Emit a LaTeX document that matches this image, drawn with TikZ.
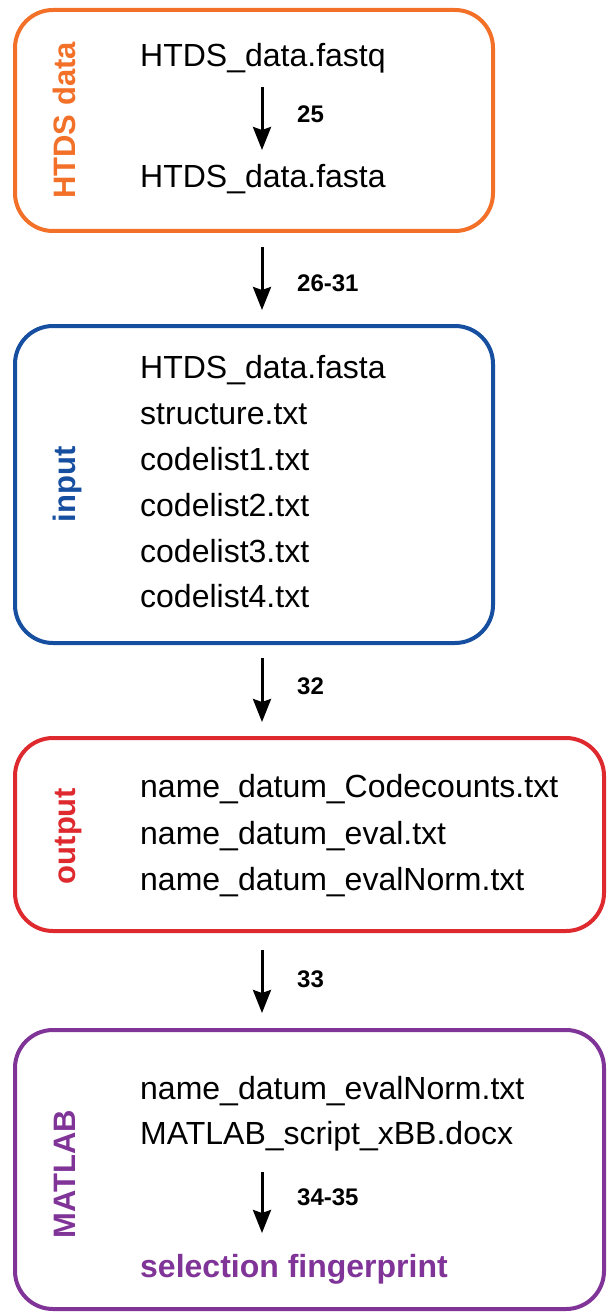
\documentclass[tikz,border=0pt]{standalone}
\usepackage{fontspec}
\setmainfont{Liberation Sans}
\usetikzlibrary{arrows.meta}
\definecolor{cOrange}{RGB}{242,112,40}
\definecolor{cBlue}{RGB}{22,78,160}
\definecolor{cRed}{RGB}{222,42,46}
\definecolor{cPurple}{RGB}{128,52,152}
\tikzset{
  box/.style={draw, line width=4pt, rounded corners=38pt, inner sep=0pt},
  ftext/.style={anchor=base west, inner sep=0pt, font=\fontsize{32}{38}\selectfont},
  lbl/.style={anchor=base west, inner sep=0pt, font=\bfseries\fontsize{24}{28}\selectfont},
  side/.style={rotate=90, anchor=base, inner sep=0pt, font=\bfseries\fontsize{31}{36}\selectfont},
  arr/.style={line width=3pt, -{Stealth[length=23pt,width=18pt,inset=3pt]}}
}
\begin{document}
\begin{tikzpicture}[x=1pt,y=-1pt]
\useasboundingbox (0,0) rectangle (608,1313);
% boxes
\node[box, draw=cOrange, minimum width=478pt, minimum height=221pt] (b1) at (254,120.5) {};
\node[box, draw=cBlue, minimum width=478pt, minimum height=317pt] (b2) at (254,484.5) {};
\node[box, draw=cRed, minimum width=589pt, minimum height=193pt] (b3) at (309.5,834.5) {};
\node[box, draw=cPurple, minimum width=589pt, minimum height=279pt] (b4) at (309.5,1169.5) {};
% side labels
\node[side, text=cOrange] (s1) at (75,120.5) {HTDS data};
\node[side, text=cBlue] (s2) at (75,484.5) {input};
\node[side, text=cRed] (s3) at (75,836) {output};
\node[side, text=cPurple] (s4) at (75,1174) {MATLAB};
% box 1
\node[ftext] (t11) at (140,67) {HTDS\_data.fastq};
\node[ftext] (t12) at (140,188) {HTDS\_data.fasta};
% box 2
\node[ftext] (t21) at (140,378) {HTDS\_data.fasta};
\node[ftext] (t22) at (140,424) {structure.txt};
\node[ftext] (t23) at (140,470) {codelist1.txt};
\node[ftext] (t24) at (140,516) {codelist2.txt};
\node[ftext] (t25) at (140,562) {codelist3.txt};
\node[ftext] (t26) at (140,607) {codelist4.txt};
% box 3
\node[ftext] (t31) at (140,797) {name\_datum\_Codecounts.txt};
\node[ftext] (t32) at (140,844) {name\_datum\_eval.txt};
\node[ftext] (t33) at (140,890) {name\_datum\_evalNorm.txt};
% box 4
\node[ftext] (t41) at (140,1099) {name\_datum\_evalNorm.txt};
\node[ftext] (t42) at (140,1144) {MATLAB\_script\_xBB.docx};
\node[ftext, font=\bfseries\fontsize{32}{38}\selectfont, text=cPurple] (t43) at (140,1277) {selection fingerprint};
% arrow coordinates
\coordinate (a1s) at (262,87);   \coordinate (a1e) at (262,150);
\coordinate (a2s) at (262,247);  \coordinate (a2e) at (262,310);
\coordinate (a3s) at (262,658);  \coordinate (a3e) at (262,722);
\coordinate (a4s) at (262,950);  \coordinate (a4e) at (262,1013);
\coordinate (a5s) at (262,1172); \coordinate (a5e) at (262,1233);
\draw[arr] (a1s) -- (a1e);
\draw[arr] (a2s) -- (a2e);
\draw[arr] (a3s) -- (a3e);
\draw[arr] (a4s) -- (a4e);
\draw[arr] (a5s) -- (a5e);
% arrow labels
\node[lbl] (l1) at (297,123) {25};
\node[lbl] (l2) at (297,292) {26-31};
\node[lbl] (l3) at (297,694) {32};
\node[lbl] (l4) at (297,987) {33};
\node[lbl] (l5) at (297,1205) {34-35};
\end{tikzpicture}
\end{document}
